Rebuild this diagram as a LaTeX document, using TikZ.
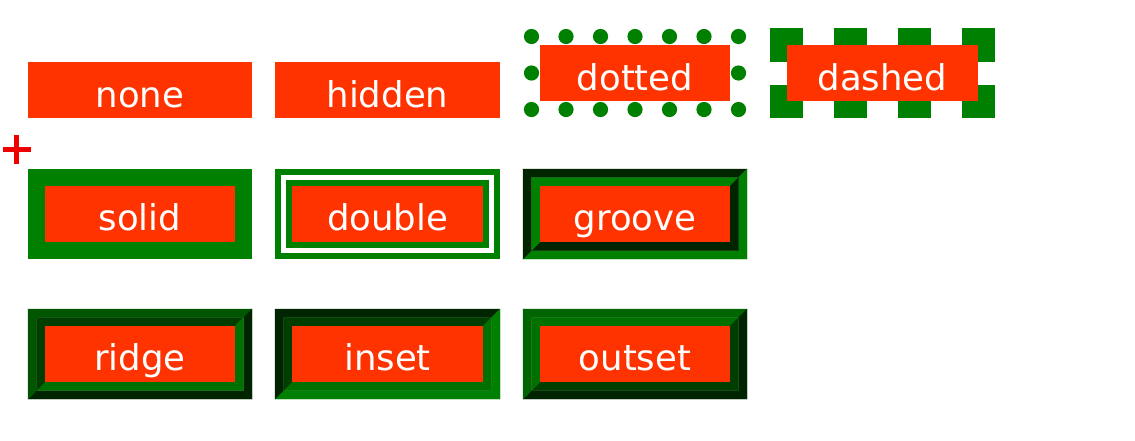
\documentclass[tikz,border=0pt]{standalone}
\usepackage{fontspec}
\setmainfont{DejaVu Sans}
\definecolor{boxred}{HTML}{FF3300}
\definecolor{plusred}{HTML}{EE0000}
\definecolor{gr}{HTML}{008000}
\definecolor{lg}{HTML}{007000}
\definecolor{og}{HTML}{006400}
\definecolor{md}{HTML}{005600}
\definecolor{dm}{HTML}{003E00}
\definecolor{dk}{HTML}{002400}
\newcommand\bordband[9]{%
 \filldraw[#6,line width=0.3pt] (#1,#2) -- (#3,#2) -- ({#3-#5},{#2+#5}) -- ({#1+#5},{#2+#5}) -- cycle;
 \filldraw[#7,line width=0.3pt] (#3,#2) -- (#3,#4) -- ({#3-#5},{#4-#5}) -- ({#3-#5},{#2+#5}) -- cycle;
 \filldraw[#8,line width=0.3pt] (#3,#4) -- (#1,#4) -- ({#1+#5},{#4-#5}) -- ({#3-#5},{#4-#5}) -- cycle;
 \filldraw[#9,line width=0.3pt] (#1,#4) -- (#1,#2) -- ({#1+#5},{#2+#5}) -- ({#1+#5},{#4-#5}) -- cycle;}
\tikzset{
  redbox/.style={fill=boxred},
  lbl/.style={text=white,font=\fontsize{35.5}{42}\selectfont,anchor=base,inner sep=0pt},
}
\begin{document}
\begin{tikzpicture}[x=1pt,y=-1pt]
\useasboundingbox[fill=white] (0,0) rectangle (1135,440);
% plus
\fill[plusred] (3,147) rectangle (31,152);
\fill[plusred] (13.5,135) rectangle (18.5,164);
% row 1: none, hidden
\fill[redbox] (28,62) rectangle (252,118);
\node[lbl] (none) at (140,107.5) {none};
\fill[redbox] (275,62) rectangle (500,118);
\node[lbl] (hidden) at (387.5,107.5) {hidden};
% dotted
\foreach \i in {0,...,6} {
  \fill[gr] ({531.5+34.5*\i},36.5) circle (7.6);
  \fill[gr] ({531.5+34.5*\i},109.5) circle (7.6);
}
\fill[gr] (531.5,73) circle (7.6);
\fill[gr] (738.5,73) circle (7.6);
\fill[redbox] (540,45) rectangle (730,101);
\node[lbl] (dotted) at (635,90.5) {dotted};
% dashed
\foreach \x in {770,834,898,962} {
  \fill[gr] (\x,28) rectangle ({\x+33},62);
  \fill[gr] (\x,85) rectangle ({\x+33},118);
}
\fill[redbox] (787,45) rectangle (978,101);
\node[lbl] (dashed) at (882.5,90.5) {dashed};
% row 2: solid
\fill[gr] (28,169) rectangle (252,259);
\fill[redbox] (45,186) rectangle (235,242);
\node[lbl] (solid) at (140,230.5) {solid};
% double
\fill[gr] (275,169) rectangle (500,259);
\fill[white] (280.7,174.7) rectangle (494.3,253.3);
\fill[gr] (286.3,180.3) rectangle (488.7,247.7);
\fill[redbox] (292,186) rectangle (483,242);
\node[lbl] (double) at (387.5,230.5) {double};
% groove
\bordband{523}{169}{747}{259}{8.5}{dk}{gr}{gr}{dk}
\bordband{531.5}{177.5}{738.5}{250.5}{8.5}{gr}{dk}{dk}{gr}
\fill[redbox] (540,186) rectangle (730,242);
\node[lbl] (groove) at (635,230.5) {groove};
% row 3: ridge
\bordband{28}{309}{252}{399}{8.5}{md}{dk}{dk}{md}
\bordband{36.5}{317.5}{243.5}{390.5}{8.5}{dm}{lg}{lg}{dm}
\fill[redbox] (45,326) rectangle (235,382);
\node[lbl] (ridge) at (140,370.5) {ridge};
% inset
\bordband{275}{309}{500}{399}{8.5}{dk}{gr}{gr}{dk}
\bordband{283.5}{317.5}{491.5}{390.5}{8.5}{dm}{lg}{lg}{dm}
\fill[redbox] (292,326) rectangle (483,382);
\node[lbl] (inset) at (387.5,370.5) {inset};
% outset
\bordband{523}{309}{747}{399}{8.5}{og}{dk}{dk}{og}
\bordband{531.5}{317.5}{738.5}{390.5}{8.5}{lg}{dm}{dm}{lg}
\fill[redbox] (540,326) rectangle (730,382);
\node[lbl] (outset) at (635,370.5) {outset};
\end{tikzpicture}
\end{document}
